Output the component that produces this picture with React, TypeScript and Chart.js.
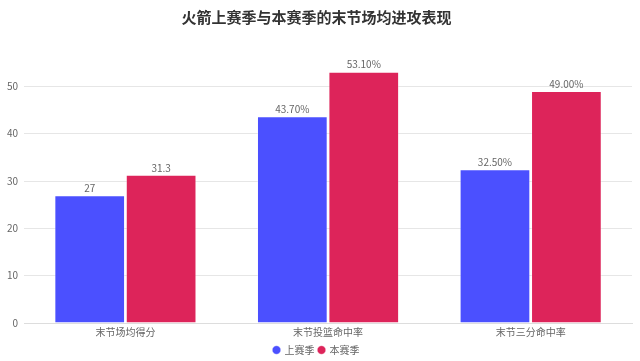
import React, { useEffect, useRef } from "react";
import { Chart, registerables } from "chart.js";

Chart.register(...registerables);

const categories = ["末节场均得分", "末节投篮命中率", "末节三分命中率"];
const lastSeason = [27, 43.7, 32.5];
const thisSeason = [31.3, 53.1, 49.0];
const lastLabels = ["27", "43.70%", "32.50%"];
const thisLabels = ["31.3", "53.10%", "49.00%"];
const seriesNames = ["上赛季", "本赛季"];

const FONT = "'Noto Sans CJK SC', 'Noto Sans', sans-serif";

const valueLabelPlugin = {
  id: "valueLabels",
  afterDatasetsDraw(chart: any) {
    const ctx = chart.ctx;
    ctx.save();
    ctx.font = `10px ${FONT}`;
    ctx.fillStyle = "#666";
    ctx.textAlign = "center";
    ctx.textBaseline = "bottom";
    chart.data.datasets.forEach((ds: any, di: number) => {
      const meta = chart.getDatasetMeta(di);
      const labels = di === 0 ? lastLabels : thisLabels;
      meta.data.forEach((bar: any, i: number) => {
        ctx.fillText(labels[i], bar.x, bar.y - 2);
      });
    });
    ctx.restore();
  },
};

export default function App() {
  const ref = useRef<HTMLCanvasElement>(null);
  useEffect(() => {
    const chart = new Chart(ref.current!, {
      type: "bar",
      data: {
        labels: categories,
        datasets: [
          {
            label: seriesNames[0],
            data: lastSeason,
            backgroundColor: "#4B50FF",
            borderColor: "rgba(255,255,255,0.35)",
            borderWidth: 1,
          },
          {
            label: seriesNames[1],
            data: thisSeason,
            backgroundColor: "#DD245A",
            borderColor: "rgba(255,255,255,0.35)",
            borderWidth: 1,
          },
        ],
      },
      options: {
        animation: false,
        responsive: false,
        layout: { padding: { left: 1, right: 8, top: 0, bottom: -4 } },
        datasets: {
          bar: { categoryPercentage: 0.705, barPercentage: 0.99 },
        },
        plugins: {
          title: {
            display: true,
            text: "火箭上赛季与本赛季的末节场均进攻表现",
            color: "#333",
            font: { family: FONT, size: 15, weight: "bold" },
            padding: { top: 8, bottom: 13 },
          },
          legend: {
            position: "bottom",
            labels: {
              usePointStyle: true,
              pointStyle: "circle",
              boxWidth: 6,
              boxHeight: 6,
              padding: 4,
              color: "#666",
              font: { family: FONT, size: 10 },
            },
          },
          tooltip: { enabled: false },
        },
        scales: {
          x: {
            grid: { display: false, drawTicks: false },
            border: { color: "#ddd" },
            ticks: { color: "#666", font: { family: FONT, size: 10 }, padding: 3 },
          },
          y: {
            min: 0,
            max: 60,
            border: { display: false },
            grid: {
              color: (c: any) => (c.tick && c.tick.value === 60 ? "rgba(0,0,0,0)" : "#e6e6e6"),
              drawTicks: false,
            },
            ticks: {
              stepSize: 10,
              color: "#666",
              padding: 6,
              font: { family: FONT, size: 10 },
              callback: (v: any) => (v === 60 ? "" : String(v)),
            },
          },
        },
      },
      plugins: [valueLabelPlugin],
    });
    return () => chart.destroy();
  }, []);
  return (
    <div style={{ position: "fixed", left: 0, top: 0, width: 640, height: 361, background: "#fff" }}>
      <canvas ref={ref} width={640} height={361} />
    </div>
  );
}
